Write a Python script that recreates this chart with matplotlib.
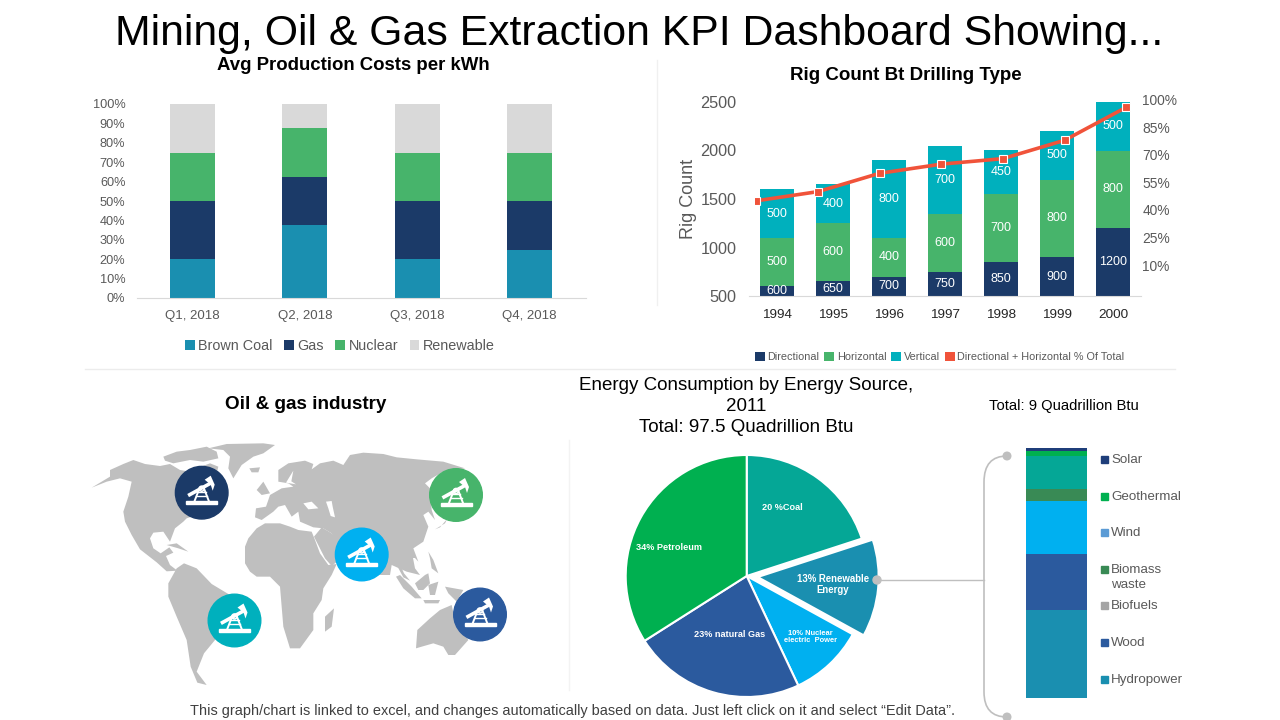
import matplotlib
matplotlib.use('Agg')
import matplotlib.pyplot as plt
import numpy as np
from matplotlib.patches import Circle, Patch, PathPatch, Polygon, Rectangle
from matplotlib.path import Path

plt.rcParams['font.family'] = ['Liberation Sans', 'DejaVu Sans']

# chart 1
quarters = ['Q1, 2018', 'Q2, 2018', 'Q3, 2018', 'Q4, 2018']
brown_coal = [20, 37.5, 20, 25]
gas = [30, 25, 30, 25]
nuclear = [25, 25, 25, 25]
renewable = [25, 12.5, 25, 25]

# chart 2
years = ['1994', '1995', '1996', '1997', '1998', '1999', '2000']
directional = [600, 650, 700, 750, 850, 900, 1200]
horizontal = [500, 600, 400, 600, 700, 800, 800]
vertical = [500, 400, 800, 700, 450, 500, 500]
dir_hor_pct = [45, 50, 60, 65, 68, 78, 96]
pct_ticks = [10, 25, 40, 55, 70, 85, 100]

# pie
pie_names = ['20 %Coal', '13% Renewable\nEnergy', '10% Nuclear\nelectric  Power', '23% natural Gas', '34% Petroleum']
pie_values = [20, 13, 10, 23, 34]
pie_colors = ['#05a796', '#1a8fb0', '#00b0f0', '#2b5a9e', '#00b050']

# single stacked column, bottom to top
source_names = ['Hydropower', 'Wood', 'Biofuels', 'Biomass\nwaste', 'Wind', 'Geothermal', 'Solar']
source_values = [3.16, 2.02, 1.91, 0.43, 1.20, 0.17, 0.11]
source_colors = ['#1a8fb0', '#2b5a9e', '#00b0f0', '#398a55', '#05a796', '#00b050', '#1f3e7a']
source_keys = ['#1a8fb0', '#2b5a9e', '#a5a5a5', '#398a55', '#5b9bd5', '#00b050', '#1f3e7a']

TEAL, NAVY, GREEN, GREY = '#1a8fb0', '#1b3a68', '#47b46b', '#d9d9d9'
CYAN, RED, TXT = '#00b0bd', '#f0533a', '#595959'

fig = plt.figure(figsize=(12.8, 7.2), dpi=100)


def axes_px(x0, y0, x1, y1, **kw):
    return fig.add_axes([x0 / 1280, 1 - y1 / 720, (x1 - x0) / 1280, (y1 - y0) / 720], **kw)


def fig_xy(x, y):
    return (x / 1280, 1 - y / 720)


# --- stacked percent columns
ax1 = axes_px(136.5, 104, 585.5, 298)
bottom = np.zeros(4)
for vals, col, name in zip([brown_coal, gas, nuclear, renewable], [TEAL, NAVY, GREEN, GREY],
                           ['Brown Coal', 'Gas', 'Nuclear', 'Renewable']):
    ax1.bar(quarters, vals, 0.4, bottom=bottom, color=col, label=name)
    bottom += np.array(vals)
ax1.set_xlim(-0.5, 3.5)
ax1.set_ylim(0, 100)
ax1.set_yticks(np.arange(0, 101, 10))
ax1.set_yticklabels([f'{v}%' for v in range(0, 101, 10)])
ax1.tick_params(axis='y', length=0, pad=8, labelsize=9.2, labelcolor=TXT)
ax1.tick_params(axis='x', length=0, pad=9, labelsize=9.5, labelcolor=TXT)
for s in ['top', 'left', 'right']:
    ax1.spines[s].set_visible(False)
ax1.spines['bottom'].set_color(GREY)
ax1.legend(loc='center', bbox_to_anchor=fig_xy(340, 346), bbox_transform=fig.transFigure, ncol=4, frameon=False,
           fontsize=10.4, labelcolor=TXT, handlelength=0.65, handleheight=0.65, handletextpad=0.25,
           columnspacing=0.8)

# --- rig count columns
ax2 = axes_px(749, 102, 1141, 296)
bottom = np.zeros(7)
for vals, col, name in zip([directional, horizontal, vertical], [NAVY, GREEN, CYAN],
                           ['Directional', 'Horizontal', 'Vertical']):
    ax2.bar(years, vals, 0.62, bottom=bottom, color=col, label=name)
    for i, v in enumerate(vals):
        ax2.text(i, (max(bottom[i], 500) + bottom[i] + v) / 2, str(v), color='white', fontsize=9,
                 ha='center', va='center')
    bottom += np.array(vals)
ax2.set_xlim(-0.5, 6.5)
ax2.set_ylim(500, 2500)
ax2.set_yticks([500, 1000, 1500, 2000, 2500])
ax2.tick_params(axis='y', length=0, pad=9, labelsize=11.7, labelcolor=TXT)
ax2.tick_params(axis='x', length=0, pad=9, labelsize=9.7, labelcolor='#262626')
ax2.set_ylabel('Rig Count', fontsize=13, color=TXT, labelpad=2.5)
for s in ['top', 'left', 'right']:
    ax2.spines[s].set_visible(False)
ax2.spines['bottom'].set_color(GREY)
handles, labels = ax2.get_legend_handles_labels()
handles.append(Patch(fc=RED, lw=0))
labels.append('Directional + Horizontal % Of Total')
ax2.legend(handles, labels, loc='center', bbox_to_anchor=fig_xy(939.5, 357), bbox_transform=fig.transFigure, ncol=4,
           frameon=False, fontsize=7.8, labelcolor=TXT, handlelength=0.95, handleheight=0.95,
           handletextpad=0.2, columnspacing=0.45)

# the line has its own category spacing, wider than the bars
ax2b = axes_px(755, 95, 1141, 296)
ax2b.patch.set_visible(False)
ax2b.plot(range(7), dir_hor_pct, color=RED, lw=2.6, marker='s', ms=5.5, mfc=RED, mec='white', mew=0.8)
ax2b.set_xlim(-0.02, 6.24)
ax2b.set_ylim(-6.9, 102.7)
ax2b.set_xticks([])
ax2b.yaxis.tick_right()
ax2b.set_yticks(pct_ticks)
ax2b.set_yticklabels([f'{v}%' for v in pct_ticks])
ax2b.tick_params(axis='y', length=0, pad=1, labelsize=9.9, labelcolor=TXT)
for s in ax2b.spines.values():
    s.set_visible(False)

# --- pie
ax3 = axes_px(746.7 - 135, 576 - 135, 746.7 + 135, 576 + 135)
ax3.pie(pie_values, colors=pie_colors, radius=121, startangle=90, counterclock=False,
        explode=[0, 11, 0, 0, 0], wedgeprops=dict(edgecolor='white', linewidth=1.5))
ax3.set_xlim(-135, 135)
ax3.set_ylim(-135, 135)

# --- single column
ax4 = axes_px(1026, 448, 1087, 698)
base = 0
for v, c in zip(source_values, source_colors):
    ax4.bar(0, v, 1, bottom=base, color=c)
    base += v
ax4.set_xlim(-0.5, 0.5)
ax4.set_ylim(0, sum(source_values))
ax4.axis('off')

# --- everything drawn by pixel position: titles, map, connector
ov = axes_px(0, 0, 1280, 720, zorder=10)
ov.set_xlim(0, 1280)
ov.set_ylim(720, 0)
ov.axis('off')
ov.patch.set_visible(False)

ov.text(639.5, 34.5, 'Mining, Oil & Gas Extraction KPI Dashboard Showing...', fontsize=30.75, ha='center', va='center',
        color='black')
ov.text(353, 65.5, 'Avg Production Costs per kWh', fontsize=13.4, fontweight='bold', ha='center', va='center')
ov.text(906, 75, 'Rig Count Bt Drilling Type', fontsize=13.5, fontweight='bold', ha='center', va='center')
ov.text(306, 404.5, 'Oil & gas industry', fontsize=13.6, fontweight='bold', ha='center', va='center')
ov.text(746, 386, 'Energy Consumption by Energy Source,', fontsize=13.5, ha='center', va='center')
ov.text(746, 406.5, '2011', fontsize=13.5, ha='center', va='center')
ov.text(746, 427.5, 'Total: 97.5 Quadrillion Btu', fontsize=13.5, ha='center', va='center')
ov.text(1063.5, 406, 'Total: 9 Quadrillion Btu', fontsize=10.6, ha='center', va='center')
ov.text(573, 711, 'This graph/chart is linked to excel, and changes automatically based on data. '
        'Just left click on it and select “Edit Data”.', fontsize=10.45, ha='center', va='center', color='#404040')

# separators
ov.plot([85, 1175], [369, 369], color='#ececec', lw=1)
ov.plot([657, 657], [60, 305], color='#f0f0f0', lw=1)
ov.plot([569, 569], [440, 690], color='#f3f3f3', lw=1)

# pie labels
pie_spots = [(782, 507.5, 6.6), (833, 584.5, 6.9), (810.5, 637, 5.4), (730, 634.5, 6.6), (669, 547.5, 6.6)]
for name, (x, y, fs) in zip(pie_names, pie_spots):
    ov.text(x, y, name, color='white', fontsize=fs, fontweight='bold', ha='center', va='center', linespacing=1.05)

# connector and bracket
LINE = '#bfbfbf'
ov.plot([876, 984], [580, 580], color=LINE, lw=1)
ov.add_patch(Circle((877, 580), 4, color=LINE))
bracket = Path([(1007, 456), (984, 456), (984, 482), (984, 692), (984, 717), (1007, 717)],
               [Path.MOVETO, Path.CURVE3, Path.CURVE3, Path.LINETO, Path.CURVE3, Path.CURVE3])
ov.add_patch(PathPatch(bracket, fc='none', ec=LINE, lw=1.2))
ov.add_patch(Circle((1007, 456), 3.8, color=LINE))
ov.add_patch(Circle((1007, 717), 3.8, color=LINE))

# column legend, top to bottom
for i, (name, col) in enumerate(zip(source_names[::-1], source_keys[::-1])):
    y = 459.5 + i * 36.6
    ov.add_patch(Rectangle((1101, y - 3.5), 7, 7, color=col))
    ov.text(1111, y + 0.5, name.split('\n')[0], fontsize=9.6, color=TXT, ha='left', va='center')
    if '\n' in name:
        ov.text(1111, y + 15.5, name.split('\n')[1], fontsize=9.6, color=TXT, ha='left', va='center')


# world map, outlines traced by eye from 3x crops: (crop origin, outlines in crop pixels)
def land(origin, shapes, color='#bfbfbf'):
    for shape in shapes:
        ov.add_patch(Polygon(np.array(shape) / 3 + origin, color=color, lw=0))


land((90, 440), [
    # north america
    [(5, 143), (60, 110), (60, 90), (100, 72), (130, 60), (165, 72), (210, 78), (240, 72), (270, 90), (300, 95),
     (320, 85), (360, 70), (385, 80), (380, 100), (400, 140), (395, 170), (350, 215), (290, 235), (280, 245),
     (255, 265), (240, 305), (220, 275), (190, 278), (180, 295), (190, 325), (212, 340), (238, 322), (250, 338),
     (228, 348), (240, 375), (262, 392), (230, 394), (200, 367), (150, 328), (125, 285), (105, 245),
     (100, 215), (115, 170), (125, 125), (90, 115), (50, 125)],
    # arctic islands, greenland, iceland
    [(220, 50), (260, 35), (300, 30), (350, 20), (380, 35), (385, 55), (340, 65), (300, 60), (250, 70), (225, 62)],
    [(355, 25), (410, 12), (520, 10), (555, 15), (520, 40), (490, 50), (455, 75), (430, 115), (415, 85), (420, 50),
     (400, 30)],
    [(478, 85), (510, 82), (505, 97), (485, 97)],
    # cuba, britain
    [(230, 315), (260, 310), (295, 335), (265, 325)],
    [(500, 150), (520, 125), (540, 160), (515, 165)],
])

land((80, 440), [
    # south america
    [(290, 385), (312, 370), (350, 385), (395, 432), (450, 465), (445, 520), (405, 600), (372, 640), (350, 695),
     (380, 735), (352, 728), (332, 680), (320, 600), (290, 530), (265, 470), (265, 430)],
    # africa
    [(495, 320), (505, 295), (530, 265), (555, 250), (600, 250), (630, 260), (655, 270), (695, 275), (705, 300),
     (720, 340), (745, 375), (770, 372), (755, 405), (730, 445), (725, 480), (700, 520), (700, 570), (660, 625),
     (630, 625), (610, 560), (605, 500), (600, 440), (570, 410), (530, 410), (510, 395), (495, 370)],
    # madagascar
    [(735, 530), (762, 505), (755, 560), (735, 575)],
])

land((250, 440), [
    # eurasia, down to india and indochina
    [(15, 232), (18, 205), (48, 200), (55, 180), (60, 165), (95, 145), (130, 140), (115, 130), (85, 125), (85, 105),
     (85, 90), (115, 70), (165, 62), (190, 72), (185, 88), (210, 70), (250, 62), (280, 75), (300, 45), (340, 38),
     (400, 42), (440, 52), (500, 58), (580, 65), (645, 85), (620, 90), (580, 95), (545, 115), (525, 130), (540, 145),
     (545, 210), (555, 240), (535, 215), (520, 225), (535, 260), (520, 305), (490, 325), (505, 365), (495, 354),
     (489, 354), (495, 385), (510, 405), (470, 395), (425, 375), (420, 405), (355, 405), (290, 320), (262, 300),
     (245, 280), (220, 265), (190, 262), (150, 245), (145, 215), (125, 230), (105, 195), (85, 200), (70, 215),
     (35, 240)],
    # arabia, with the red sea left open
    [(192, 290), (215, 262), (245, 280), (270, 300), (285, 345), (245, 378), (225, 355)],
    # japan
    [(555, 268), (585, 250), (592, 236), (570, 262)],
])

land((250, 440), [
    # black sea, caspian, baltic
    [(160, 190), (185, 185), (205, 205), (175, 208)],
    [(228, 185), (245, 183), (248, 200), (255, 232), (242, 228), (235, 205)],
    [(108, 128), (130, 92), (124, 124), (138, 133)],
], color='white')

land((380, 540), [
    # malay peninsula, sumatra, borneo, java, sulawesi, philippines, new guinea, australia
    [(55, 62), (72, 100), (90, 122), (70, 112), (50, 75)],
    [(48, 110), (60, 105), (95, 140), (125, 175), (105, 175), (70, 145)],
    [(105, 130), (135, 105), (145, 100), (150, 130), (130, 150), (115, 150)],
    [(130, 180), (180, 180), (175, 190), (135, 190)],
    [(145, 135), (175, 125), (165, 165), (150, 165)],
    [(145, 35), (160, 60), (175, 100), (155, 85), (150, 55)],
    [(195, 140), (250, 150), (230, 185), (205, 160)],
    [(108, 325), (112, 270), (150, 235), (180, 210), (215, 195), (225, 240), (265, 300), (225, 345), (205, 345),
     (190, 320), (160, 310), (125, 320)],
])


def pump_jack(cx, cy, col):
    ov.add_patch(Circle((cx, cy), 26.3, color=col))
    ov.add_patch(Rectangle((cx - 15.5, cy + 8), 31, 3.2, color='white'))
    # tower
    ov.plot([cx - 7, cx - 2, cx + 2, cx + 7], [cy + 8, cy - 5, cy - 5, cy + 8], color='white', lw=1.4)
    ov.plot([cx - 5.5, cx + 5.5], [cy + 3, cy + 3], color='white', lw=1)
    ov.plot([cx - 4, cx + 4], [cy - 1, cy - 1], color='white', lw=1)
    ov.add_patch(Circle((cx, cy - 4), 2.5, fc=col, ec='white', lw=1.2))
    # beam and head
    ov.plot([cx - 12, cx + 8], [cy + 2, cy - 9], color='white', lw=2.6)
    ov.add_patch(Polygon([(cx + 3, cy - 13), (cx + 9, cy - 17), (cx + 13, cy - 8), (cx + 11, cy - 2), (cx + 9, cy - 8)],
                         color='white', lw=0))


pump_jack(201.7, 492.7, NAVY)
pump_jack(456, 495, GREEN)
pump_jack(361.7, 554.5, '#00b0f0')
pump_jack(234.5, 620.5, CYAN)
pump_jack(480, 614.5, '#2b5a9e')

fig.savefig('out.png', dpi=100)
